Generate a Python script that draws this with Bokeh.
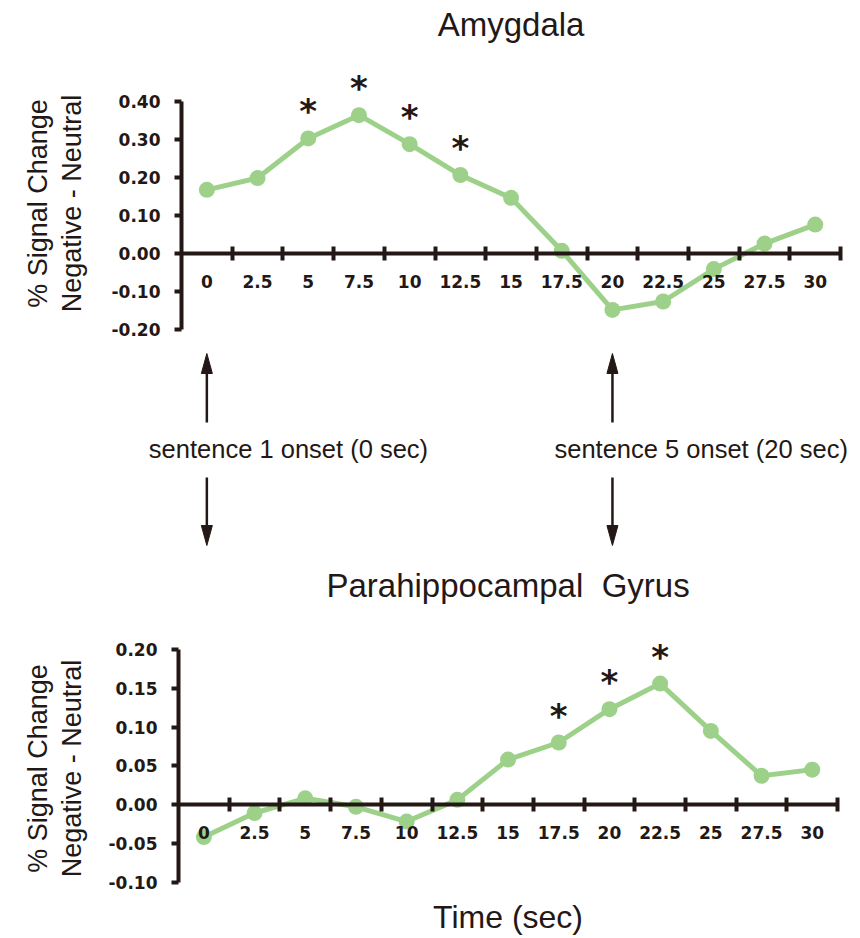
import math
from bokeh.plotting import figure
from bokeh.layouts import column
from bokeh.models import ColumnDataSource, LinearAxis, FixedTicker, NumeralTickFormatter, Range1d
from bokeh.core.properties import value
from bokeh.embed import file_html
from bokeh.resources import INLINE

# ---- data -------------------------------------------------------------
time_s = [0, 2.5, 5, 7.5, 10, 12.5, 15, 17.5, 20, 22.5, 25, 27.5, 30]
time_labels = ["0", "2.5", "5", "7.5", "10", "12.5", "15", "17.5", "20", "22.5", "25", "27.5", "30"]

amygdala = [0.167, 0.198, 0.302, 0.363, 0.287, 0.206, 0.146, 0.007, -0.148, -0.126, -0.041, 0.026, 0.076]
amygdala_sig = [False, False, True, True, True, True, False, False, False, False, False, False, False]
amygdala_yticks = [-0.20, -0.10, 0.00, 0.10, 0.20, 0.30, 0.40]

parahippocampal = [-0.042, -0.011, 0.008, -0.003, -0.022, 0.006, 0.058, 0.080, 0.123, 0.156, 0.095, 0.037, 0.045]
parahippocampal_sig = [False, False, False, False, False, False, False, True, True, True, False, False, False]
parahippocampal_yticks = [-0.10, -0.05, 0.00, 0.05, 0.10, 0.15, 0.20]

onsets = [0, 20]
onset_labels = ["sentence 1 onset (0 sec)", "sentence 5 onset (20 sec)"]

y_title_lines = ["% Signal Change", "Negative - Neutral"]

# ---- styling ----------------------------------------------------------
INK = "#231815"
GREEN = "#9dd18a"
PAGE_W = 860
PX_PER_SEC = 20.28
STEP = time_s[1] - time_s[0]
X_START = time_s[0] - STEP / 2          # where the value axis stands
X_MID = (time_s[0] + time_s[-1]) / 2
TICK_FONT = "DejaVu Sans"
TEXT_FONT = "Liberation Sans"
BASELINE_FIX = 0.36                     # text glyph baseline correction, in em


def x_range_for(left_px):
    x0 = X_START - left_px / PX_PER_SEC
    return Range1d(x0, x0 + PAGE_W / PX_PER_SEC)


def base_figure(height, x_range, y_range):
    p = figure(width=PAGE_W, height=height, x_range=x_range, y_range=y_range,
               x_axis_location=None, y_axis_location=None,
               output_backend="svg", toolbar_location=None, min_border=0)
    p.outline_line_color = None
    p.background_fill_color = "white"
    p.border_fill_color = "white"
    p.xgrid.visible = False
    p.ygrid.visible = False
    return p


def chart(title, values, sig, yticks, height, zero_px, px_per_unit, left_px,
          title_px, ytitle_px, xlabel=None, xlabel_px=None):
    y_range = Range1d(-(height - zero_px) / px_per_unit, zero_px / px_per_unit)
    p = base_figure(height, x_range_for(left_px), y_range)

    def y_at(px):
        return (zero_px - px) / px_per_unit

    def x_at(px):
        return X_START + (px - left_px) / PX_PER_SEC

    # vertical value axis, standing at the start of the time axis
    yaxis = LinearAxis(
        fixed_location=X_START,
        ticker=FixedTicker(ticks=yticks, minor_ticks=[]),
        formatter=NumeralTickFormatter(format="0.00"),
        bounds=(yticks[0], yticks[-1]),
        axis_line_width=4, axis_line_color=INK,
        major_tick_line_width=4, major_tick_line_color=INK,
        major_tick_in=0, major_tick_out=7, minor_tick_line_color=None,
        major_label_text_font=TICK_FONT, major_label_text_font_style="bold",
        major_label_text_font_size="17px", major_label_text_color=INK,
        major_label_standoff=14,
    )
    p.add_layout(yaxis, "left")

    # zero line with ticks between the sampling points
    mids = [t + STEP / 2 for t in time_s]
    rule = LinearAxis(
        fixed_location=0,
        ticker=FixedTicker(ticks=mids, minor_ticks=[]),
        bounds=(X_START, mids[-1]),
        major_label_overrides={m: "" for m in mids},
        axis_line_width=4, axis_line_color=INK,
        major_tick_in=7, major_tick_out=7,
        major_tick_line_width=4, major_tick_line_color=INK,
        minor_tick_line_color=None,
    )
    p.add_layout(rule, "below")

    # time labels under each sampling point
    tlabels = LinearAxis(
        fixed_location=0,
        ticker=FixedTicker(ticks=time_s, minor_ticks=[]),
        major_label_overrides=dict(zip(time_s, time_labels)),
        axis_line_color=None, major_tick_line_color=None, minor_tick_line_color=None,
        major_tick_in=0, major_tick_out=0,
        major_label_standoff=21,
        major_label_text_font=TICK_FONT, major_label_text_font_style="bold",
        major_label_text_font_size="17px", major_label_text_color=INK,
    )
    p.add_layout(tlabels, "below")

    src = ColumnDataSource(dict(t=time_s, v=values))
    p.line("t", "v", source=src, line_color=GREEN, line_width=5)
    p.scatter("t", "v", source=src, size=16, fill_color=GREEN, line_color=None)

    # significance markers above the flagged time points
    st = [t for t, s in zip(time_s, sig) if s]
    sv = [v for v, s in zip(values, sig) if s]
    p.text(st, sv, text=["*"] * len(st), text_font=value(TICK_FONT),
           text_font_style="bold", text_font_size="34px",
           text_align="center", text_baseline="middle",
           y_offset=-27, text_color=INK)

    # panel title, centred over the time axis
    p.text([X_MID], [y_at(title_px)], text=[title], text_font=value(TEXT_FONT),
           text_font_size="33px", text_align="center", text_baseline="alphabetic",
           y_offset=-BASELINE_FIX * 33, text_color=INK)

    # two-line value-axis title
    shift = BASELINE_FIX * 27
    p.text([x_at(47 - shift), x_at(81 - shift)], [y_at(ytitle_px)] * 2, text=y_title_lines,
           text_font=value(TEXT_FONT), text_font_size="27px", angle=math.pi / 2,
           text_align="center", text_baseline="alphabetic", text_color=INK)

    if xlabel:
        p.text([X_MID], [y_at(xlabel_px)], text=[xlabel], text_font=value(TEXT_FONT),
               text_font_size="32px", text_align="center", text_baseline="alphabetic",
               y_offset=-BASELINE_FIX * 32, text_color=INK)
    return p


TOP_LEFT = 181
top = chart("Amygdala", amygdala, amygdala_sig, amygdala_yticks,
            height=345, zero_px=253, px_per_unit=381, left_px=TOP_LEFT,
            title_px=36, ytitle_px=203)

# onset annotations between the two panels (vertical units are pixels from the top)
MID_H = 205
mid = base_figure(MID_H, x_range_for(TOP_LEFT), Range1d(MID_H, 0))

HEAD_LEN = 20
HEAD_HALF = 5.5 / PX_PER_SEC
UP_TIP, UP_TAIL, DOWN_TAIL, DOWN_TIP = 8, 77, 132, 200
n = len(onsets)
mid.segment(x0=onsets, y0=[UP_TAIL] * n, x1=onsets, y1=[UP_TIP + HEAD_LEN - 2] * n,
            line_color=INK, line_width=2.5)
mid.segment(x0=onsets, y0=[DOWN_TAIL] * n, x1=onsets, y1=[DOWN_TIP - HEAD_LEN + 2] * n,
            line_color=INK, line_width=2.5)
mid.patches(
    xs=[[x, x - HEAD_HALF, x + HEAD_HALF] for x in onsets] * 2,
    ys=[[UP_TIP, UP_TIP + HEAD_LEN, UP_TIP + HEAD_LEN]] * n
       + [[DOWN_TIP, DOWN_TIP - HEAD_LEN, DOWN_TIP - HEAD_LEN]] * n,
    fill_color=INK, line_color=INK, line_width=1)
mid.text(onsets, [113] * n, text=onset_labels, text_font=value(TEXT_FONT),
         text_font_size="25.5px", text_align="left", text_baseline="alphabetic",
         x_offset=-58, y_offset=-BASELINE_FIX * 25.5, text_color=INK)

bottom = chart("Parahippocampal\u00a0 Gyrus", parahippocampal, parahippocampal_sig,
               parahippocampal_yticks, height=388, zero_px=254, px_per_unit=775,
               left_px=178, title_px=47, ytitle_px=218,
               xlabel="Time (sec)", xlabel_px=378)

layout = column(top, mid, bottom, spacing=0)
open("out.html", "w").write(file_html(layout, INLINE))
